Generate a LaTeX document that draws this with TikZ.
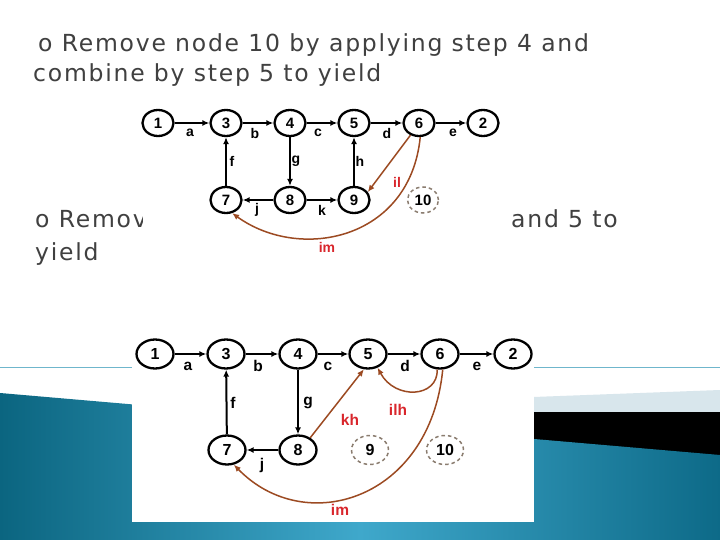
\documentclass[tikz,border=0pt]{standalone}
\usepackage{fontspec}
\setmainfont{DejaVu Sans}
\newfontfamily\lab{Liberation Sans}
\usetikzlibrary{arrows.meta,shapes.geometric}
\definecolor{txtc}{HTML}{404040}
\definecolor{brn}{HTML}{9C4A22}
\definecolor{redc}{HTML}{D9262C}
\definecolor{dashc}{HTML}{8B7D70}
\definecolor{tealA}{HTML}{0B6580}
\definecolor{tealB}{HTML}{0D6A88}
\definecolor{tealC}{HTML}{3FA8CB}
\definecolor{bandc}{HTML}{D8E6EC}
\definecolor{linec}{HTML}{6FB6CC}
\begin{document}
\begin{tikzpicture}[x=1pt,y=-1pt,
  vt/.style={ellipse,draw,line width=2.3pt,minimum width=31pt,minimum height=26pt,inner sep=0pt,font=\lab\bfseries\fontsize{15}{15}\selectfont},
  vb/.style={vt,minimum width=37pt,minimum height=29pt,font=\lab\bfseries\fontsize{16}{16}\selectfont},
  dsh/.style={draw=dashc,dash pattern=on 3.5pt off 3pt,line width=1.5pt},
  ed/.style={-{Latex[length=7pt,width=6pt]},line width=2pt},
  bed/.style={-{Latex[length=7pt,width=6pt]},draw=brn,line width=1.5pt},
  lb/.style={font=\lab\bfseries\fontsize{14}{14}\selectfont,inner sep=0pt},
  lbb/.style={font=\lab\bfseries\fontsize{15.5}{15.5}\selectfont,inner sep=0pt},
  rl/.style={lb,text=redc},
  rlb/.style={lbb,text=redc},
  para/.style={anchor=base west,inner sep=0pt,text=txtc,font=\fontsize{23.5}{28}\selectfont\addfontfeature{LetterSpace=7.5}}]
\useasboundingbox (0,0) rectangle (720,540);
\fill[white] (0,0) rectangle (720,540);
% background
\draw[linec,line width=1pt] (0,367) -- (720,367);
\fill[bandc] (440,400.5) -- (720,390) -- (720,456) -- (440,456) -- cycle;
\fill[black] (440,412) rectangle (720,456);
\shade[left color=tealA,right color=tealB,middle color=tealC] (0,393) -- (720,455) -- (720,540) -- (0,540) -- cycle;
% texts
\node[para] (t1) at (38,52) {o Remove node 10 by applying step 4 and};
\node[para] (t2) at (33,82) {combine by step 5 to yield};
\node[para] (t3) at (35,228) {o Remove};
\node[para] (t4) at (511,228) {and 5 to};
\node[para] (t5) at (35,260) {yield};
% top image
\fill[white] (143,102) rectangle (505,262);
\node[vt] (a1) at (158,123) {1};
\node[vt] (a3) at (226,123) {3};
\node[vt] (a4) at (290,123) {4};
\node[vt] (a5) at (354,123) {5};
\node[vt] (a6) at (419,123) {6};
\node[vt] (a2) at (483,123) {2};
\node[vt] (a7) at (226,200) {7};
\node[vt] (a8) at (290,200) {8};
\node[vt] (a9) at (354,200) {9};
\node[vt,dsh] (a10) at (423,200) {10};
\draw[ed] (a1) -- (a3);
\draw[ed] (a3) -- (a4);
\draw[ed] (a4) -- (a5);
\draw[ed] (a5) -- (a6);
\draw[ed] (a6) -- (a2);
\draw[ed] (a7) -- (a3);
\draw[ed] (a4) -- (a8);
\draw[ed] (a9) -- (a5);
\draw[ed] (a8) -- (a7);
\draw[ed] (a8) -- (a9);
\draw[bed] (a6.235) -- (a9.30);
\draw[bed] (a6.275) .. controls (410,240) and (300,262) .. (a7.-65);
\node[lb] (la) at (190,133) {a};
\node[lb] (lbb) at (255,133) {b};
\node[lb] (lc) at (318,133) {c};
\node[lb] (ld) at (387,133) {d};
\node[lb] (le) at (453,133) {e};
\node[lb] (lf) at (232,161) {f};
\node[lb] (lg) at (296,161) {g};
\node[lb] (lh) at (360,161) {h};
\node[lb] (lj) at (257,210) {j};
\node[lb] (lk) at (322,210) {k};
\node[rl] (lil) at (397,182) {il};
\node[rl] (lim) at (327,247) {im};
% bottom image
\fill[white] (132,332) rectangle (534,522);
\node[vb] (b1) at (155,354) {1};
\node[vb] (b3) at (226,354) {3};
\node[vb] (b4) at (298,354) {4};
\node[vb] (b5) at (368,354) {5};
\node[vb] (b6) at (440,354) {6};
\node[vb] (b2) at (513,354) {2};
\node[vb] (b7) at (227,450) {7};
\node[vb] (b8) at (298,450) {8};
\node[vb,dsh] (b9) at (370,450) {9};
\node[vb,dsh] (b10) at (445,450) {10};
\draw[ed] (b1) -- (b3);
\draw[ed] (b3) -- (b4);
\draw[ed] (b4) -- (b5);
\draw[ed] (b5) -- (b6);
\draw[ed] (b6) -- (b2);
\draw[ed] (b7) -- (b3);
\draw[ed] (b4) -- (b8);
\draw[ed] (b8) -- (b7);
\draw[bed] (b8.45) -- (b5.255);
\draw[bed] (b6.-100) .. controls (438,398) and (395,400) .. (b5.-55);
\draw[bed] (b6.-80) .. controls (430,500) and (305,538) .. (b7.-65);
\node[lbb] (ma) at (188,366) {a};
\node[lbb] (mb) at (258,366) {b};
\node[lbb] (mc) at (328,366) {c};
\node[lbb] (md) at (405,366) {d};
\node[lbb] (me) at (477,366) {e};
\node[lbb] (mf) at (233,403) {f};
\node[lbb] (mg) at (308,403) {g};
\node[lbb] (mj) at (262,465) {j};
\node[rlb] (mkh) at (350,420) {kh};
\node[rlb] (milh) at (398,410) {ilh};
\node[rlb] (mim) at (340,510) {im};
\end{tikzpicture}
\end{document}
